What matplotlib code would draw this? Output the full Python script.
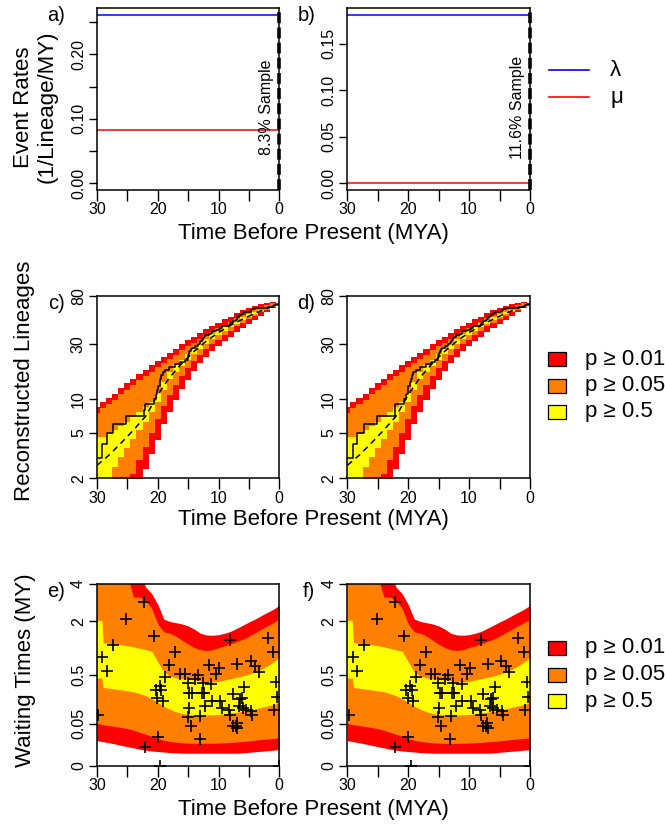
import numpy as np
import matplotlib
matplotlib.use('Agg')
import matplotlib.pyplot as plt
from matplotlib.lines import Line2D
from matplotlib.patches import Rectangle

plt.rcParams['font.family'] = ['Liberation Sans', 'DejaVu Sans']

W, H = 665, 825

# event rates (panels a, b)
lam = [0.2615, 0.181]
mu = [0.0833, 0.0]
samples = ['8.3% Sample', '11.6% Sample']

# LTT envelopes (panels c, d), one value per MY
ltt_t = np.arange(30, -1, -1)
ltt_red_hi = [8.5, 9.4, 10.2, 11, 12.3, 13.6, 14.9, 16.5, 18, 19.6, 21.5, 23.2, 25, 27.3, 30, 32.5,
              35, 37.4, 40.5, 43.5, 46.5, 49.5, 52.5, 56.2, 59.5, 62.5, 65, 67.5, 69.5, 71, 68]
ltt_orange_hi = [7.5, 8.3, 9.0, 9.7, 10.9, 12.0, 13.2, 14.6, 15.9, 17.3, 19.0, 20.5, 22.1, 24.2, 26.5, 28.8,
                 31.0, 33.1, 36.0, 38.8, 41.5, 44.5, 47.5, 51.0, 54.5, 58, 61, 64, 66.5, 68.5, 67]
ltt_yellow_hi = [4.6, 4.6, 4.9, 5.3, 5.8, 6.3, 6.9, 7.6, 8.4, 9.4, 11.2, 14, 17, 19.8, 22, 24.6,
                 27.5, 30.6, 33.5, 36.8, 39.5, 42.5, 46, 49, 52, 55, 57.8, 60.5, 63, 65, 67]
ltt_yellow_lo = [1.9, 1.9, 1.9, 2.5, 3.1, 3.7, 4.4, 5.3, 6.3, 7.7, 9.3, 12.0, 14.8, 17, 19.4, 21.9,
                 24.5, 27.2, 30.2, 33.2, 36.2, 39.3, 42.5, 45.5, 48.5, 52, 55, 58.5, 61.5, 64.5, 67]
ltt_orange_lo = [1.9, 1.9, 1.9, 1.9, 1.9, 1.9, 2.2, 2.9, 3.8, 5.0, 6.6, 8.6, 10.8, 13.2, 15.8, 18.5,
                 21.3, 24.1, 27.2, 30.2, 33, 36, 39.5, 43, 46.5, 50, 53.5, 57, 60.5, 64, 67]
ltt_red_lo = [1.9, 1.9, 1.9, 1.9, 1.9, 1.9, 1.9, 1.9, 2.4, 3.3, 4.3, 6.0, 7.7, 9.8, 12.2, 14.7,
              17.5, 20.4, 23.2, 26.1, 29.0, 32, 35, 38.3, 41.7, 45, 48.8, 53, 57.5, 62, 67]
exp_t = [30, 28, 26, 24, 22, 20, 18, 16, 14, 12, 10, 8, 6, 4, 2, 0]
exp_n = [2.6, 3.2, 4.1, 5.3, 7.0, 10.8, 15.5, 20.5, 26, 32, 38, 44, 50, 56, 62, 67]
ltt_n0 = 3

# waiting time envelopes (panels e, f)
wt_t = [30, 29.2, 29, 28, 27, 26, 25, 24, 23, 22, 21, 20, 19, 18, 17, 16, 15, 14, 13, 12, 11, 10,
        9, 8, 7, 6, 5, 4, 3, 2, 1, 0]
wt_red_hi = [5, 5, 5, 5, 5, 5, 5, 5, 5, 3.8, 3.4, 2.8, 2.1, 2.0, 1.95, 1.9, 1.82, 1.7, 1.55, 1.49,
             1.48, 1.5, 1.55, 1.62, 1.73, 1.85, 1.98, 2.1, 2.25, 2.4, 2.55, 2.75]
wt_orange_hi = [5, 5, 5, 5, 5, 5, 4.6, 3.2, 3.2, 3.0, 2.6, 1.9, 1.6, 1.55, 1.45, 1.32, 1.2, 1.1,
                1.04, 1.02, 1.04, 1.1, 1.15, 1.21, 1.28, 1.35, 1.45, 1.57, 1.69, 1.82, 1.95, 2.1]
wt_yellow_hi = [2.05, 2.05, 1.25, 1.22, 1.2, 1.18, 1.15, 1.12, 1.08, 1.04, 1.0, 0.75, 0.55, 0.48,
                0.45, 0.44, 0.43, 0.42, 0.41, 0.39, 0.39, 0.4, 0.42, 0.44, 0.46, 0.48, 0.51, 0.55,
                0.6, 0.66, 0.74, 0.85]
wt_yellow_lo = [0.45, 0.45, 0.32, 0.31, 0.3, 0.29, 0.28, 0.27, 0.25, 0.23, 0.2, 0.17, 0.14, 0.12,
                0.105, 0.095, 0.09, 0.088, 0.087, 0.087, 0.088, 0.09, 0.093, 0.097, 0.102, 0.108,
                0.115, 0.123, 0.132, 0.142, 0.153, 0.166]
wt_orange_lo = [0.05, 0.047, 0.046, 0.043, 0.04, 0.037, 0.034, 0.03, 0.025, 0.021, 0.017, 0.013,
                0.011, 0.0095, 0.0087, 0.008, 0.0077, 0.0075, 0.0075, 0.0075, 0.0076, 0.0078, 0.008,
                0.0085, 0.009, 0.0095, 0.0102, 0.011, 0.012, 0.0128, 0.0135, 0.0145]
wt_red_lo = [0.0105, 0.0095, 0.0092, 0.008, 0.0068, 0.0056, 0.0046, 0.0038, 0.003, 0.0025, 0.0021,
             0.0019, 0.0017, 0.0015, 0.0014, 0.0013, 0.0013, 0.0013, 0.0013, 0.0013, 0.0013, 0.0013,
             0.0013, 0.0013, 0.0013, 0.0014, 0.0016, 0.0018, 0.002, 0.0022, 0.0025, 0.0028]

# observed branching times and waiting times
wait_t = [22.2, 25.2, 20.7, 27.3, 29.1, 28.4, 29.8, 17.1, 18.1, 18.8, 20.3, 19.7, 19.4, 20.1, 19.2,
          20.0, 22.1, 19.6, 16.3, 15.6, 15.1, 13.4, 13.9, 14.8, 14.4, 14.9, 15.1, 14.6, 13.1, 13.0,
          12.6, 12.8, 12.4, 12.2, 11.5, 11.2, 11.1, 10.4, 9.9, 9.7, 9.4, 8.1, 7.7, 8.2, 8.1, 7.7,
          7.0, 6.9, 7.2, 6.9, 6.4, 6.1, 5.75, 6.6, 6.0, 5.5, 4.7, 4.0, 3.4, 4.6, 4.5, 1.9, 1.0,
          0.5, 0.3, 0.8, 0.05]
wait_v = [2.93, 2.10, 1.45, 1.175, 0.856, 0.558, 0.086, 0.99, 0.686, 0.473, 0.289, 0.338, 0.289,
          0.209, 0.18, 0.0156, 0.0047, 0.0, 0.517, 0.517, 0.374, 0.494, 0.431, 0.26, 0.26, 0.129,
          0.0774, 0.0407, 0.0125, 0.081, 0.374, 0.26, 0.26, 0.141, 0.686, 0.36, 0.18, 0.511, 0.613,
          0.18, 0.125, 1.34, 0.242, 0.114, 0.089, 0.0407, 0.052, 0.0357, 0.041, 0.70, 0.194, 0.209,
          0.326, 0.141, 0.129, 0.118, 0.77, 0.666, 0.54, 0.112, 0.089, 1.39, 0.97, 0.397, 0.219,
          0.118, 0.0]

RED, ORANGE, YELLOW = '#FF0000', '#FF8000', '#FFFF00'

fig = plt.figure(figsize=(W / 100, H / 100), dpi=100)


def px_axes(x0, y0, x1, y1):
    return fig.add_axes([x0 / W, 1 - y1 / H, (x1 - x0) / W, (y1 - y0) / H])


def style_time(ax):
    ax.set_xlim(30, 0)
    ax.set_xticks([30, 25, 20, 15, 10, 5, 0])
    ax.set_xticklabels(['30', '', '20', '', '10', '', '0'])
    ax.tick_params(axis='x', direction='out', length=8, width=1, labelsize=11.5, pad=1)
    ax.tick_params(axis='y', direction='out', length=6, width=1, labelsize=11.5, pad=2,
                   labelrotation=90)
    for lab in ax.get_yticklabels():
        lab.set_va('center')
    for s in ax.spines.values():
        s.set_linewidth(1.1)


cols = [(97, 279.3), (347.3, 530)]
rows = [(8, 190), (295.7, 478.3), (584, 765.7)]

for i, (x0, x1) in enumerate(cols):
    # event rates
    ax = px_axes(x0, rows[0][0], x1, rows[0][1])
    top = max(lam[i], mu[i])
    ax.set_ylim(-0.04 * top, 1.04 * top)
    ax.axhline(lam[i], color='#0000FF', lw=1.1)
    ax.axhline(mu[i], color=RED, lw=1.1)
    ax.axvline(0, color='k', lw=2.6, ls=(0, (3, 1.2)), clip_on=False, zorder=5)
    ax.text(0.8, 0.455, samples[i], rotation=90, ha='right', va='center', fontsize=11.5,
            transform=ax.get_xaxis_transform())
    if i == 0:
        ax.set_yticks([0, 0.05, 0.1, 0.15, 0.2, 0.25])
        ax.set_yticklabels(['0.00', '', '0.10', '', '0.20', ''])
    else:
        ax.set_yticks([0, 0.05, 0.1, 0.15])
        ax.set_yticklabels(['0.00', '0.05', '0.10', '0.15'])
    style_time(ax)

    # lineages through time
    ax = px_axes(x0, rows[1][0], x1, rows[1][1])
    ax.set_yscale('log')
    ax.fill_between(ltt_t, ltt_red_lo, ltt_red_hi, step='mid', color=RED, lw=0)
    ax.fill_between(ltt_t, ltt_orange_lo, ltt_orange_hi, step='mid', color=ORANGE, lw=0)
    ax.fill_between(ltt_t, ltt_yellow_lo, ltt_yellow_hi, step='mid', color=YELLOW, lw=0)
    bt = np.sort(np.array(wait_t)[np.array(wait_t) < 29.5])[::-1]
    step_x = np.concatenate([[30], bt, [0]])
    step_y = ltt_n0 + np.arange(len(step_x))
    step_y[-1] = step_y[-2]
    ax.step(step_x, step_y, where='post', color='k', lw=1.1)
    ax.plot(exp_t, exp_n, color='k', lw=1.1, ls=(0, (4, 3)))
    ax.set_ylim(2, 80)
    ax.set_yticks([2, 5, 10, 30, 80])
    ax.set_yticklabels(['2', '5', '10', '30', '80'])
    ax.yaxis.set_minor_locator(matplotlib.ticker.NullLocator())
    style_time(ax)

    # waiting times
    ax = px_axes(x0, rows[2][0], x1, rows[2][1])
    ax.set_yscale('function', functions=(np.cbrt, lambda v: np.sign(v) * np.abs(v) ** 3))
    ax.fill_between(wt_t, wt_red_lo, wt_red_hi, color=RED, lw=0)
    ax.fill_between(wt_t, wt_orange_lo, wt_orange_hi, color=ORANGE, lw=0)
    ax.fill_between(wt_t, wt_yellow_lo, wt_yellow_hi, color=YELLOW, lw=0)
    ax.plot(wait_t, wait_v, '+', color='k', ms=8, mew=1.2, zorder=4)
    ax.set_ylim(0, 4)
    ax.set_yticks([0, 0.05, 0.5, 2, 4])
    ax.set_yticklabels(['0', '0.05', '0.5', '2', '4'])
    ax.yaxis.set_minor_locator(matplotlib.ticker.NullLocator())
    style_time(ax)

# panel letters
for j, (y0, y1) in enumerate(rows):
    for i, (x0, x1) in enumerate(cols):
        fig.text((x0 - 32) / W, 1 - (y0 - 2) / H, 'abcdef'[2 * j + i] + ')', ha='right', va='top',
                 fontsize=14.5)

# axis titles
for yc in [234, 520, 810]:
    fig.text(313 / W, 1 - yc / H, 'Time Before Present (MYA)', ha='center', va='center', fontsize=16)
fig.text(35 / W, 1 - 107 / H, 'Event Rates\n(1/Lineage/MY)', rotation=90, ha='center', va='center',
         fontsize=16, multialignment='center', linespacing=1.15)
fig.text(25 / W, 1 - 381 / H, 'Reconstructed Lineages', rotation=90, ha='center', va='center',
         fontsize=16)
fig.text(26 / W, 1 - 670 / H, 'Waiting Times (MY)', rotation=90, ha='center', va='center',
         fontsize=16)

# legends
for yc, col, sym in [(70, '#0000FF', 'λ'), (97, RED, 'μ')]:
    fig.add_artist(Line2D([549 / W, 589 / W], [1 - yc / H, 1 - yc / H], color=col, lw=1.2))
    fig.text(610 / W, 1 - yc / H, sym, ha='left', va='center', fontsize=16)

for ytop in [352, 641]:
    for k, (col, lab) in enumerate([(RED, 'p ≥ 0.01'), (ORANGE, 'p ≥ 0.05'), (YELLOW, 'p ≥ 0.5')]):
        y = ytop + k * 26.5
        fig.add_artist(Rectangle((548 / W, 1 - (y + 14) / H), 18 / W, 14 / H, facecolor=col,
                                 edgecolor='k', lw=0.9, transform=fig.transFigure))
        fig.text(585 / W, 1 - (y + 7) / H, lab, ha='left', va='center', fontsize=16)

fig.savefig('out.png', dpi=100)
